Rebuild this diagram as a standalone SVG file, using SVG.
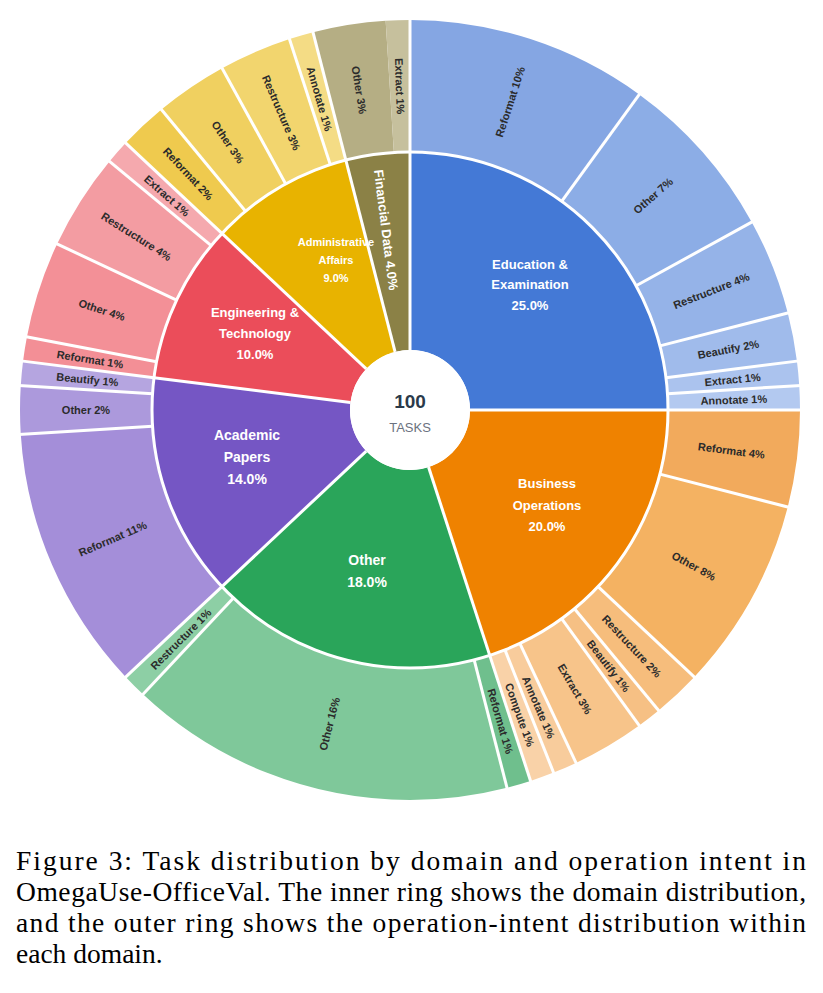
<svg xmlns="http://www.w3.org/2000/svg" width="823" height="993" viewBox="0 0 823 993">
<style>
.seg{fill:none}
.in{stroke-width:198}
.out{stroke-width:132}
.sep{stroke:#fff;stroke-width:3}
.ol{font-family:"Liberation Sans",Arial,sans-serif;font-size:11px;font-weight:bold;fill:#2b2b2b;text-anchor:middle;dominant-baseline:central}
.il{font-family:"Liberation Sans",Arial,sans-serif;font-size:13px;font-weight:bold;fill:#fff;text-anchor:middle}
.cap{font-family:"Liberation Serif","Times New Roman",serif;font-size:27.5px;fill:#000}
</style>
<rect width="823" height="993" fill="#fff"/>
<g transform="translate(410,410)">
<g id="inner" transform="rotate(-90)">
<circle id="d-edu" class="seg in" r="159" pathLength="100" stroke="#4479d6" stroke-dasharray="25 100" stroke-dashoffset="0"/>
<circle id="d-biz" class="seg in" r="159" pathLength="100" stroke="#ef8200" stroke-dasharray="20 100" stroke-dashoffset="-25"/>
<circle id="d-oth" class="seg in" r="159" pathLength="100" stroke="#2aa55a" stroke-dasharray="18 100" stroke-dashoffset="-45"/>
<circle id="d-aca" class="seg in" r="159" pathLength="100" stroke="#7556c4" stroke-dasharray="14 100" stroke-dashoffset="-63"/>
<circle id="d-eng" class="seg in" r="159" pathLength="100" stroke="#eb4d5a" stroke-dasharray="10 100" stroke-dashoffset="-77"/>
<circle id="d-adm" class="seg in" r="159" pathLength="100" stroke="#e8b300" stroke-dasharray="9 100" stroke-dashoffset="-87"/>
<circle id="d-fin" class="seg in" r="159" pathLength="100" stroke="#8b8146" stroke-dasharray="4 100" stroke-dashoffset="-96"/>
</g>
<g id="outer" transform="rotate(-90)">
<circle class="seg out" r="324" pathLength="100" stroke="#85a6e3" stroke-dasharray="10 100" stroke-dashoffset="0"/>
<circle class="seg out" r="324" pathLength="100" stroke="#8cade6" stroke-dasharray="7 100" stroke-dashoffset="-10"/>
<circle class="seg out" r="324" pathLength="100" stroke="#95b3e8" stroke-dasharray="4 100" stroke-dashoffset="-17"/>
<circle class="seg out" r="324" pathLength="100" stroke="#a0bbeb" stroke-dasharray="2 100" stroke-dashoffset="-21"/>
<circle class="seg out" r="324" pathLength="100" stroke="#abc3ee" stroke-dasharray="1 100" stroke-dashoffset="-23"/>
<circle class="seg out" r="324" pathLength="100" stroke="#b3c9f0" stroke-dasharray="1 100" stroke-dashoffset="-24"/>
<circle class="seg out" r="324" pathLength="100" stroke="#f2aa5c" stroke-dasharray="4 100" stroke-dashoffset="-25"/>
<circle class="seg out" r="324" pathLength="100" stroke="#f4b262" stroke-dasharray="8 100" stroke-dashoffset="-29"/>
<circle class="seg out" r="324" pathLength="100" stroke="#f6bd7c" stroke-dasharray="2 100" stroke-dashoffset="-37"/>
<circle class="seg out" r="324" pathLength="100" stroke="#f6c084" stroke-dasharray="1 100" stroke-dashoffset="-39"/>
<circle class="seg out" r="324" pathLength="100" stroke="#f7c48a" stroke-dasharray="3 100" stroke-dashoffset="-40"/>
<circle class="seg out" r="324" pathLength="100" stroke="#f8cc9c" stroke-dasharray="1 100" stroke-dashoffset="-43"/>
<circle class="seg out" r="324" pathLength="100" stroke="#f9d2a8" stroke-dasharray="1 100" stroke-dashoffset="-44"/>
<circle class="seg out" r="324" pathLength="100" stroke="#6fbf8d" stroke-dasharray="1 100" stroke-dashoffset="-45"/>
<circle class="seg out" r="324" pathLength="100" stroke="#7fc89a" stroke-dasharray="16 100" stroke-dashoffset="-46"/>
<circle class="seg out" r="324" pathLength="100" stroke="#8dcfa5" stroke-dasharray="1 100" stroke-dashoffset="-62"/>
<circle class="seg out" r="324" pathLength="100" stroke="#a48ed9" stroke-dasharray="11 100" stroke-dashoffset="-63"/>
<circle class="seg out" r="324" pathLength="100" stroke="#ac99dc" stroke-dasharray="2 100" stroke-dashoffset="-74"/>
<circle class="seg out" r="324" pathLength="100" stroke="#b5a5e0" stroke-dasharray="1 100" stroke-dashoffset="-76"/>
<circle class="seg out" r="324" pathLength="100" stroke="#f38f96" stroke-dasharray="1 100" stroke-dashoffset="-77"/>
<circle class="seg out" r="324" pathLength="100" stroke="#f39097" stroke-dasharray="4 100" stroke-dashoffset="-78"/>
<circle class="seg out" r="324" pathLength="100" stroke="#f39ca2" stroke-dasharray="4 100" stroke-dashoffset="-82"/>
<circle class="seg out" r="324" pathLength="100" stroke="#f5a9ae" stroke-dasharray="1 100" stroke-dashoffset="-86"/>
<circle class="seg out" r="324" pathLength="100" stroke="#efca4e" stroke-dasharray="2 100" stroke-dashoffset="-87"/>
<circle class="seg out" r="324" pathLength="100" stroke="#f0d060" stroke-dasharray="3 100" stroke-dashoffset="-89"/>
<circle class="seg out" r="324" pathLength="100" stroke="#f2d56e" stroke-dasharray="3 100" stroke-dashoffset="-92"/>
<circle class="seg out" r="324" pathLength="100" stroke="#f4dc85" stroke-dasharray="1 100" stroke-dashoffset="-95"/>
<circle class="seg out" r="324" pathLength="100" stroke="#b5ae84" stroke-dasharray="3 100" stroke-dashoffset="-96"/>
<circle class="seg out" r="324" pathLength="100" stroke="#c6c09d" stroke-dasharray="1 100" stroke-dashoffset="-99"/>
</g>
<g id="connectors">
<circle r="258" fill="none" stroke="#fff" stroke-width="3"/>
<circle r="60" fill="#fff"/>
<g class="sep">
<line y1="-60" y2="-258" transform="rotate(0)"/>
<line y1="-60" y2="-258" transform="rotate(90)"/>
<line y1="-60" y2="-258" transform="rotate(162)"/>
<line y1="-60" y2="-258" transform="rotate(226.8)"/>
<line y1="-60" y2="-258" transform="rotate(277.2)"/>
<line y1="-60" y2="-258" transform="rotate(313.2)"/>
<line y1="-60" y2="-258" transform="rotate(345.6)"/>
<line y1="-258" y2="-392" transform="rotate(0)"/>
<line y1="-258" y2="-392" transform="rotate(36)"/>
<line y1="-258" y2="-392" transform="rotate(61.2)"/>
<line y1="-258" y2="-392" transform="rotate(75.6)"/>
<line y1="-258" y2="-392" transform="rotate(82.8)"/>
<line y1="-258" y2="-392" transform="rotate(86.4)"/>
<line y1="-258" y2="-392" transform="rotate(90)"/>
<line y1="-258" y2="-392" transform="rotate(104.4)"/>
<line y1="-258" y2="-392" transform="rotate(133.2)"/>
<line y1="-258" y2="-392" transform="rotate(140.4)"/>
<line y1="-258" y2="-392" transform="rotate(144)"/>
<line y1="-258" y2="-392" transform="rotate(154.8)"/>
<line y1="-258" y2="-392" transform="rotate(158.4)"/>
<line y1="-258" y2="-392" transform="rotate(162)"/>
<line y1="-258" y2="-392" transform="rotate(165.6)"/>
<line y1="-258" y2="-392" transform="rotate(223.2)"/>
<line y1="-258" y2="-392" transform="rotate(226.8)"/>
<line y1="-258" y2="-392" transform="rotate(266.4)"/>
<line y1="-258" y2="-392" transform="rotate(273.6)"/>
<line y1="-258" y2="-392" transform="rotate(277.2)"/>
<line y1="-258" y2="-392" transform="rotate(280.8)"/>
<line y1="-258" y2="-392" transform="rotate(295.2)"/>
<line y1="-258" y2="-392" transform="rotate(309.6)"/>
<line y1="-258" y2="-392" transform="rotate(313.2)"/>
<line y1="-258" y2="-392" transform="rotate(320.4)"/>
<line y1="-258" y2="-392" transform="rotate(331.2)"/>
<line y1="-258" y2="-392" transform="rotate(342)"/>
<line y1="-258" y2="-392" transform="rotate(345.6)"/>
</g>
</g>
<g id="outer-labels" class="ol">
<text transform="rotate(18) translate(0,-324) rotate(-90)">Reformat 10%</text>
<text transform="rotate(48.6) translate(0,-324) rotate(-90)">Other 7%</text>
<text transform="rotate(68.4) translate(0,-324) rotate(-90)">Restructure 4%</text>
<text transform="rotate(79.2) translate(0,-324) rotate(-90)">Beautify 2%</text>
<text transform="rotate(84.6) translate(0,-324) rotate(-90)">Extract 1%</text>
<text transform="rotate(88.2) translate(0,-324) rotate(-90)">Annotate 1%</text>
<text transform="rotate(97.2) translate(0,-324) rotate(-90)">Reformat 4%</text>
<text transform="rotate(118.8) translate(0,-324) rotate(-90)">Other 8%</text>
<text transform="rotate(136.8) translate(0,-324) rotate(-90)">Restructure 2%</text>
<text transform="rotate(142.2) translate(0,-324) rotate(-90)">Beautify 1%</text>
<text transform="rotate(149.4) translate(0,-324) rotate(-90)">Extract 3%</text>
<text transform="rotate(156.6) translate(0,-324) rotate(-90)">Annotate 1%</text>
<text transform="rotate(160.2) translate(0,-324) rotate(-90)">Compute 1%</text>
<text transform="rotate(163.8) translate(0,-324) rotate(-90)">Reformat 1%</text>
<text transform="rotate(194.4) translate(0,-324) rotate(90)">Other 16%</text>
<text transform="rotate(225) translate(0,-324) rotate(90)">Restructure 1%</text>
<text transform="rotate(246.6) translate(0,-324) rotate(90)">Reformat 11%</text>
<text transform="rotate(270) translate(0,-324) rotate(90)">Other 2%</text>
<text transform="rotate(275.4) translate(0,-324) rotate(90)">Beautify 1%</text>
<text transform="rotate(279) translate(0,-324) rotate(90)">Reformat 1%</text>
<text transform="rotate(288) translate(0,-324) rotate(90)">Other 4%</text>
<text transform="rotate(302.4) translate(0,-324) rotate(90)">Restructure 4%</text>
<text transform="rotate(311.4) translate(0,-324) rotate(90)">Extract 1%</text>
<text transform="rotate(316.8) translate(0,-324) rotate(90)">Reformat 2%</text>
<text transform="rotate(325.8) translate(0,-324) rotate(90)">Other 3%</text>
<text transform="rotate(336.6) translate(0,-324) rotate(90)">Restructure 3%</text>
<text transform="rotate(343.8) translate(0,-324) rotate(90)">Annotate 1%</text>
<text transform="rotate(351) translate(0,-324) rotate(90)">Other 3%</text>
<text transform="rotate(358.2) translate(0,-324) rotate(90)">Extract 1%</text>
</g>
</g>
<g id="inner-labels" class="il">
<text x="530" y="269">Education &amp;</text>
<text x="530" y="289">Examination</text>
<text x="530" y="310">25.0%</text>
<text x="547" y="488">Business</text>
<text x="547" y="510">Operations</text>
<text x="547" y="531">20.0%</text>
<text x="367" y="565" font-size="14">Other</text>
<text x="367" y="587" font-size="14">18.0%</text>
<text x="247" y="440" font-size="14">Academic</text>
<text x="247" y="462" font-size="14">Papers</text>
<text x="247" y="484" font-size="14">14.0%</text>
<text x="255" y="317">Engineering &amp;</text>
<text x="255" y="338">Technology</text>
<text x="255" y="359">10.0%</text>
<text x="336" y="246" font-size="11">Administrative</text>
<text x="336" y="264" font-size="11">Affairs</text>
<text x="336" y="282" font-size="11">9.0%</text>
<text transform="translate(386,230) rotate(82.8)" dominant-baseline="central">Financial Data 4.0%</text>
</g>
<g id="center">
<text x="410" y="408" font-family="Liberation Sans,Arial,sans-serif" font-size="19" font-weight="bold" fill="#2b3a4a" text-anchor="middle">100</text>
<text x="410" y="432" font-family="Liberation Sans,Arial,sans-serif" font-size="13" fill="#6b7280" text-anchor="middle">TASKS</text>
</g>
<g id="caption" class="cap">
<text x="16" y="870" textLength="790" lengthAdjust="spacing">Figure 3:  Task distribution by domain and operation intent in</text>
<text x="16" y="901" textLength="790" lengthAdjust="spacing">OmegaUse-OfficeVal. The inner ring shows the domain distribution,</text>
<text x="16" y="932" textLength="790" lengthAdjust="spacing">and the outer ring shows the operation-intent distribution within</text>
<text x="16" y="963">each domain.</text>
</g>
</svg>
